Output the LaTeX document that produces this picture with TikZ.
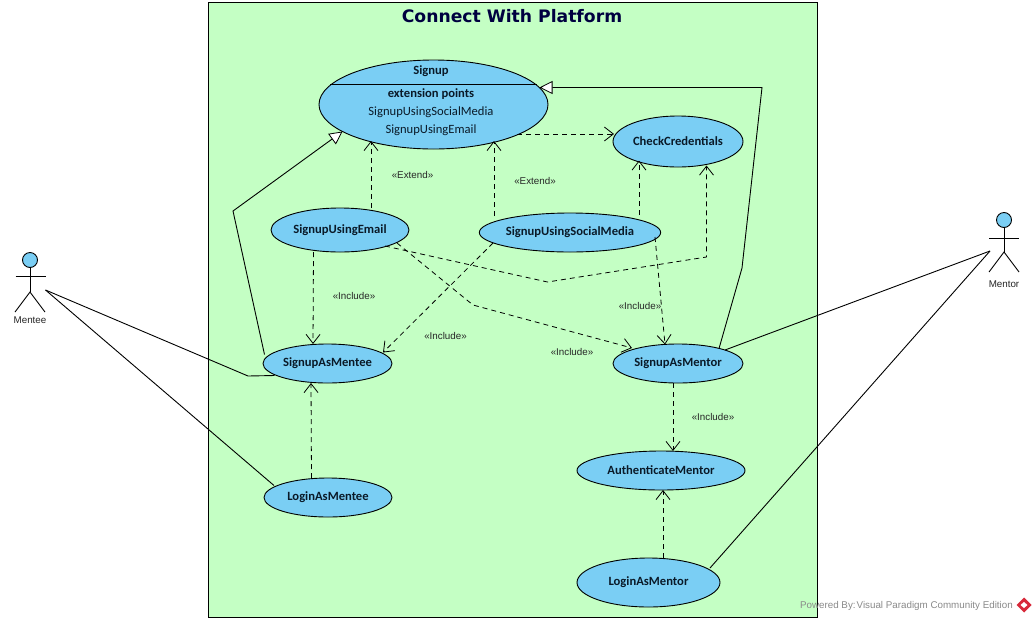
\documentclass[tikz,border=0pt]{standalone}
\usepackage{fontspec}
\setmainfont{Liberation Sans}
\newfontfamily\ucfont{Carlito}
\newfontfamily\titlefont{DejaVu Sans}
\usetikzlibrary{shapes.geometric,arrows.meta,calc}
\definecolor{framegreen}{HTML}{C4FFC4}
\definecolor{caseblue}{HTML}{7ACEF4}
\definecolor{titlenavy}{HTML}{000040}
\definecolor{inktext}{HTML}{0A1A28}
\definecolor{wmgray}{HTML}{8A8A8A}
\definecolor{wmred}{HTML}{D8293A}
\tikzset{
  uc/.style={ellipse,draw=black,fill=caseblue,line width=0.9pt,inner sep=0pt,outer sep=0pt,
    font=\ucfont\bfseries\fontsize{12.6}{14}\selectfont,text=inktext},
  uctext/.style={inner sep=0pt,font=\ucfont\fontsize{12.6}{14}\selectfont,text=inktext},
  lbl/.style={inner sep=0pt,font=\fontsize{9.8}{11}\selectfont,text=black!85},
  dep/.style={draw=black,line width=0.8pt,dash pattern=on 5pt off 4pt,
    -{Straight Barb[length=9pt,width=14pt,line width=0.8pt]}},
  gen/.style={draw=black,line width=0.9pt,-{Triangle[open,fill=white,length=13pt,width=13pt,line width=0.8pt]}},
  assoc/.style={draw=black,line width=0.9pt},
  head/.style={circle,draw=black,fill=caseblue,line width=0.9pt,inner sep=0pt,minimum size=15pt},
}
\begin{document}
\begin{tikzpicture}[x=1pt,y=-1pt]
\useasboundingbox (0,0) rectangle (1036,622);
\fill[white] (0,0) rectangle (1036,622);
\node[draw=black,fill=framegreen,line width=0.9pt,inner sep=0pt,minimum width=609pt,minimum height=615pt] (frame) at (512.5,309.5) {};
\node[inner sep=0pt,font=\titlefont\bfseries\fontsize{17.2}{20}\selectfont,text=titlenavy] (title) at (512,16) {Connect With Platform};

\node[uc,minimum width=229pt,minimum height=89pt] (signup) at (433.5,104.5) {};
\node[uc,minimum width=130pt,minimum height=51pt] (check) at (678,141.5) {CheckCredentials};
\node[uc,minimum width=138pt,minimum height=44pt] (email) at (340,230) {SignupUsingEmail};
\node[uc,minimum width=172pt,minimum height=39pt] (social) at (570,232.5) {SignupUsingSocialMedia};
\node[uc,minimum width=129pt,minimum height=39pt] (smentee) at (327.5,363.5) {SignupAsMentee};
\node[uc,minimum width=130pt,minimum height=39pt] (smentor) at (678,363.5) {SignupAsMentor};
\node[uc,minimum width=168pt,minimum height=39pt] (auth) at (661,470.5) {AuthenticateMentor};
\node[uc,minimum width=128pt,minimum height=39pt] (lmentee) at (328,497.5) {LoginAsMentee};
\node[uc,minimum width=143pt,minimum height=49pt] (lmentor) at (648.5,582.5) {LoginAsMentor};

\draw[draw=black,line width=0.9pt] ([shift={(-103.5,-20.5)}]signup.center) -- ([shift={(103.5,-20.5)}]signup.center);
\node[uctext,font=\ucfont\bfseries\fontsize{12.6}{14}\selectfont] (sgtitle) at (431,71.5) {Signup};
\node[uctext,font=\ucfont\bfseries\fontsize{12.6}{14}\selectfont] (sgext) at (431,94.5) {extension points};
\node[uctext] (sgpt1) at (431,112.5) {SignupUsingSocialMedia};
\node[uctext] (sgpt2) at (431,130.5) {SignupUsingEmail};

% include / extend
\draw[dep] ([shift={(31,-22)}]email.center) -- ([shift={(-62.5,36.5)}]signup.center);
\draw[dep] ([shift={(-76,-16.5)}]social.center) -- ([shift={(60.5,36.5)}]signup.center);
\draw[dep] ([shift={(83.5,29.5)}]signup.center) -- ([shift={(-64,-7.5)}]check.center);
\draw[dep] ([shift={(69,-17.5)}]social.center) -- ([shift={(-39,19)}]check.center);
\coordinate (kneeA) at (547.5,282);
\coordinate (kneeB) at (706.5,257);
\draw[dep] ([shift={(45,16)}]email.center) -- (kneeA) -- (kneeB) -- ([shift={(28.5,24)}]check.center);
\coordinate (kneeC) at (473,305);
\draw[dep] ([shift={(57,13)}]email.center) -- (kneeC) -- ([shift={(-46,-15.5)}]smentor.center);
\draw[dep] ([shift={(-77,10.5)}]social.center) -- ([shift={(55.5,-11)}]smentee.center);
\draw[dep] ([shift={(85,4.5)}]social.center) -- ([shift={(-13,-19)}]smentor.center);
\draw[dep] ([shift={(-26.5,22)}]email.center) -- ([shift={(-14.5,-19.5)}]smentee.center);
\draw[dep] ([shift={(-16.5,-19.5)}]lmentee.center) -- ([shift={(-16.5,19.5)}]smentee.center);
\draw[dep] ([shift={(-5,19.5)}]smentor.center) -- ([shift={(12,-19.5)}]auth.center);
\draw[dep] ([shift={(14.5,-24.5)}]lmentor.center) -- ([shift={(2,19.5)}]auth.center);

% generalisations
\coordinate (genA) at (233,211);
\draw[gen] ([shift={(-63,-9)}]smentee.center) -- (genA) -- ([shift={(-91,27)}]signup.center);
\coordinate (genB) at (742,268);
\coordinate (genC) at (762,87.5);
\draw[gen] ([shift={(41,-15)}]smentor.center) -- (genB) -- (genC) -- ([shift={(106,-17)}]signup.center);

% actors
\node[head] (menteehead) at (30,260) {};
\draw[assoc] (menteehead.south) -- (30,292) coordinate (menteehip);
\draw[assoc] (15.5,276) -- (45.5,276);
\draw[assoc] (15,312) -- (menteehip) -- (45,312);
\node[lbl] (menteelbl) at (30,320) {Mentee};
\coordinate (menteeport) at (45.5,290);

\node[head] (mentorhead) at (1004,220) {};
\draw[assoc] (mentorhead.south) -- (1004,252) coordinate (mentorhip);
\draw[assoc] (989,238) -- (1019,238);
\draw[assoc] (989,272) -- (mentorhip) -- (1019,272);
\node[lbl] (mentorlbl) at (1004,284) {Mentor};
\coordinate (mentorport) at (990,251);

% associations
\coordinate (kneeD) at (248,376);
\draw[assoc] (menteeport) -- (kneeD) -- ([shift={(-53,12)}]smentee.center);
\draw[assoc] (menteeport) -- ([shift={(-54,-12)}]lmentee.center);
\draw[assoc] (mentorport) -- ([shift={(47,-13.5)}]smentor.center);
\draw[assoc] (mentorport) -- ([shift={(61.5,-14.5)}]lmentor.center);

% labels
\node[lbl] (ex1) at (412.5,175) {<<Extend>>};
\node[lbl] (ex2) at (535,181) {<<Extend>>};
\node[lbl] (in1) at (354,296) {<<Include>>};
\node[lbl] (in2) at (445.5,336) {<<Include>>};
\node[lbl] (in3) at (640,306) {<<Include>>};
\node[lbl] (in4) at (572,352) {<<Include>>};
\node[lbl] (in5) at (713,417) {<<Include>>};

% watermark
\node[inner sep=0pt,anchor=east,font=\fontsize{9.8}{11}\selectfont,text=wmgray] (wm) at (1013,605.5) {Powered By:\hspace{1pt}Visual Paradigm Community Edition};
\fill[wmred] (1024,597.5) -- (1031.5,605) -- (1024,612.5) -- (1016.5,605) -- cycle;
\fill[white] (1024,602) -- (1027.5,605) -- (1024,608) -- (1020.5,605) -- cycle;
\end{tikzpicture}
\end{document}
